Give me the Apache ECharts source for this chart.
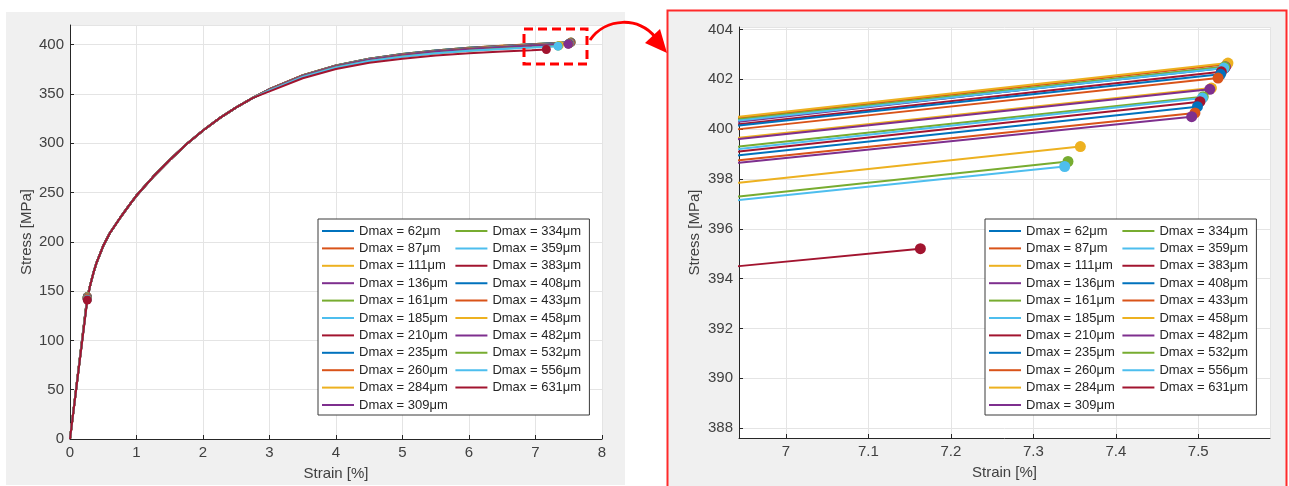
<!DOCTYPE html>
<html><head><meta charset="utf-8">
<script src="https://cdn.jsdelivr.net/npm/echarts@6/dist/echarts.min.js"></script>
<style>html,body{margin:0;padding:0;background:#fff;} #c{width:1289px;height:486px;}</style>
</head><body><div id="c"></div>
<script>
const NAMES = ['Dmax = 62μm','Dmax = 87μm','Dmax = 111μm','Dmax = 136μm','Dmax = 161μm','Dmax = 185μm','Dmax = 210μm',
  'Dmax = 235μm','Dmax = 260μm','Dmax = 284μm','Dmax = 309μm','Dmax = 334μm','Dmax = 359μm','Dmax = 383μm',
  'Dmax = 408μm','Dmax = 433μm','Dmax = 458μm','Dmax = 482μm','Dmax = 532μm','Dmax = 556μm','Dmax = 631μm'];
const PALETTE = ['#0072BD','#D95319','#EDB120','#7E2F8E','#77AC30','#4DBEEE','#A2142F'];

// yield point (first marker)
const YIELD_STRAIN = 0.26;
const YIELD_STRESS = [144.5,144.3,144.2,144,144,143.8,143.6,143.5,143.3,143.2,143,142.8,142.6,142.5,142.3,142.2,142,141.8,141.6,141.4,141];

// shared early part of the curves (all curves overlap here)
const EARLY_STRAIN = [0.3,0.35,0.4,0.5,0.6,0.75,0.9,1,1.25,1.5,1.75,2,2.25,2.5,2.75];
const EARLY_STRESS = [155,168,179,196,209,224,238,247,266,283,299,313,325.5,336.5,346];

// per-curve tail
const TAIL_STRAIN = [3,3.5,4,4.5,5,5.5,6,6.5,6.943];
const TAIL_STRESS = [
  [354.9,368.9,378.9,385.7,390.5,394.1,396.8,398.8,400.35],
  [355.0,369.0,379.0,385.8,390.6,394.2,396.85,398.85,400.45],
  [355.0,369.0,379.0,385.8,390.6,394.2,396.9,398.9,400.5],
  [354.9,368.9,378.9,385.7,390.4,394.0,396.7,398.7,400.3],
  [355.0,368.95,378.95,385.7,390.5,394.1,396.8,398.8,400.4],
  [354.9,368.9,378.9,385.7,390.5,394.1,396.8,398.75,400.35],
  [354.9,368.85,378.8,385.6,390.35,393.95,396.6,398.6,400.2],
  [354.85,368.8,378.8,385.55,390.3,393.9,396.6,398.55,400.15],
  [354.8,368.75,378.7,385.45,390.2,393.75,396.45,398.4,400.0],
  [354.65,368.55,378.5,385.2,389.9,393.45,396.1,398.1,399.65],
  [354.65,368.55,378.45,385.15,389.9,393.4,396.05,398.05,399.6],
  [354.5,368.4,378.3,384.95,389.65,393.15,395.8,397.75,399.3],
  [354.5,368.35,378.2,384.9,389.55,393.1,395.7,397.65,399.2],
  [354.45,368.3,378.15,384.8,389.5,393.0,395.6,397.55,399.1],
  [354.4,368.2,378.05,384.7,389.35,392.85,395.45,397.4,398.95],
  [354.3,368.1,377.95,384.55,389.2,392.7,395.3,397.2,398.75],
  [353.95,367.65,377.4,383.95,388.5,391.9,394.45,396.35,397.85],
  [354.25,368.05,377.9,384.5,389.1,392.6,395.2,397.1,398.65],
  [353.7,367.4,377.1,383.55,388.05,391.45,393.95,395.85,397.3],
  [353.65,367.3,377.0,383.45,387.9,391.3,393.8,395.7,397.15],
  [352.6,366.0,375.4,381.6,385.8,389.05,391.4,393.15,394.5]
];
// failure point (last marker)
const END_STRAIN = [7.532,7.535,7.536,7.533,7.532,7.531,7.528,7.527,7.524,7.516,7.514,7.506,7.505,7.502,7.499,7.496,7.357,7.492,7.342,7.338,7.163];
const END_STRESS = [402.45,402.6,402.65,402.5,402.5,402.45,402.3,402.2,402.05,401.65,401.6,401.3,401.25,401.1,400.9,400.65,399.3,400.5,398.7,398.5,395.2];

const FONT = '"Liberation Sans", Arial, Helvetica, sans-serif';
const TXT = '#404040';

function curve(i, ms) {
  const d = [[0,0], {value:[YIELD_STRAIN, YIELD_STRESS[i]], symbol:'circle', symbolSize:ms}];
  EARLY_STRAIN.forEach((x,k)=>d.push([x, EARLY_STRESS[k]]));
  TAIL_STRAIN.forEach((x,k)=>d.push([x, TAIL_STRESS[i][k]]));
  d.push({value:[END_STRAIN[i], END_STRESS[i]], symbol:'circle', symbolSize:ms});
  return d;
}

const series = [];
[0,1].forEach(g=>{
  NAMES.forEach((n,i)=>{
    const c = PALETTE[i % PALETTE.length];
    series.push({
      type:'line', name:n, xAxisIndex:g, yAxisIndex:g,
      data: curve(i, g===0 ? 9 : 11),
      symbol:'none', showSymbol:true, clip:true,
      color:c, itemStyle:{color:c, opacity:1},
      lineStyle:{width:2, color:c},
      emphasis:{disabled:true}, silent:true, animation:false
    });
  });
});

function axisCommon() {
  return {
    axisLine:{show:true, onZero:false, lineStyle:{color:'#262626', width:1}},
    axisTick:{show:true, inside:true, length:4, lineStyle:{color:'#262626'}},
    splitLine:{show:true, lineStyle:{color:'#e4e4e4', width:1}},
    axisLabel:{color:TXT, fontSize:15, fontFamily:FONT, margin:6},
    nameTextStyle:{color:TXT, fontSize:15, fontFamily:FONT},
    nameLocation:'middle'
  };
}

function legend(left) {
  return {
    show:true, type:'plain', orient:'vertical', left:left, top:219, height:190,
    data:NAMES, selectedMode:false, icon:'rect',
    itemWidth:32, itemHeight:2, itemGap:3.4,
    padding:[5,4,3,4],
    backgroundColor:'#ffffff', borderColor:'#3a3a3a', borderWidth:1,
    textStyle:{color:'#262626', fontSize:13, fontFamily:FONT, lineHeight:14, width:93}
  };
}

const option = {
  animation:false,
  backgroundColor:'#ffffff',
  grid:[
    {left:70, top:25, width:532, height:415, show:true, backgroundColor:'#ffffff', borderWidth:0},
    {left:739, top:27, width:531, height:411, show:true, backgroundColor:'#ffffff', borderWidth:0}
  ],
  xAxis:[
    Object.assign(axisCommon(), {gridIndex:0, type:'value', min:0, max:8, interval:1, name:'Strain [%]', nameGap:27}),
    Object.assign(axisCommon(), {gridIndex:1, type:'value', min:6.943, max:7.587, splitNumber:6, name:'Strain [%]', nameGap:27,
      axisLabel:{color:TXT, fontSize:15, fontFamily:FONT, margin:6, showMinLabel:false, showMaxLabel:false}})
  ],
  yAxis:[
    Object.assign(axisCommon(), {gridIndex:0, type:'value', min:0, max:420, interval:50, name:'Stress [MPa]', nameGap:36,
      axisLabel:{color:TXT, fontSize:15, fontFamily:FONT, margin:6, showMaxLabel:false}}),
    Object.assign(axisCommon(), {gridIndex:1, type:'value', min:387.6, max:404.1, splitNumber:8, name:'Stress [MPa]', nameGap:37,
      axisLabel:{color:TXT, fontSize:15, fontFamily:FONT, margin:6, showMinLabel:false, showMaxLabel:false}})
  ],
  legend:[legend(318), legend(985)],
  graphic:[
    {type:'rect', z:-1, silent:true, shape:{x:6, y:12, width:619, height:473}, style:{fill:'#f0f0f0'}},
    {type:'rect', z:-1, silent:true, shape:{x:667.5, y:10.5, width:619, height:482}, style:{fill:'#f0f0f0', stroke:'#ff2a2a', lineWidth:2}},
    {type:'rect', z:100, silent:true, shape:{x:524, y:29, width:63, height:35}, style:{fill:null, stroke:'#ff0000', lineWidth:3, lineDash:[9,5]}},
    {type:'bezierCurve', z:100, silent:true, shape:{x1:590, y1:40, cpx1:606, cpy1:17, cpx2:640, cpy2:17, x2:655, y2:37}, style:{fill:null, stroke:'#ff0000', lineWidth:3}},
    {type:'polygon', z:100, silent:true, shape:{points:[[667,53],[645,43],[660,29]]}, style:{fill:'#ff0000'}}
  ],
  series:series
};
const chart = echarts.init(document.getElementById('c'), null, {renderer:'canvas'});
chart.setOption(option);
</script></body></html>
